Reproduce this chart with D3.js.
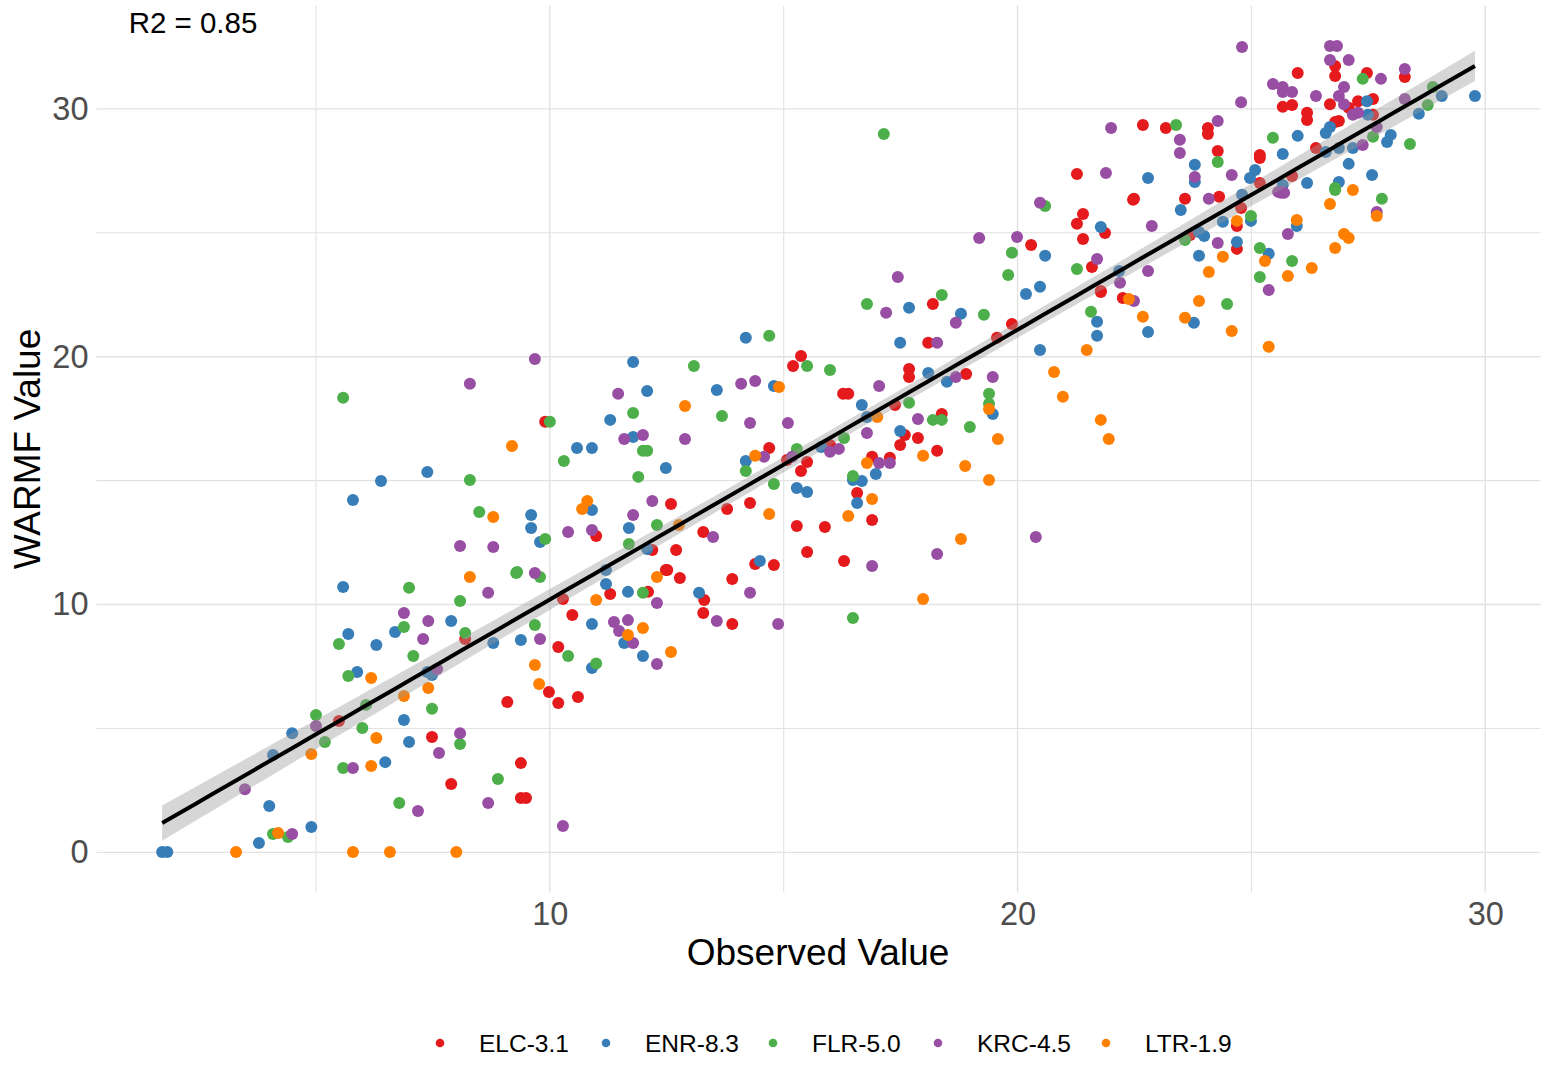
<!DOCTYPE html>
<html><head><meta charset="utf-8">
<script src="https://cdn.jsdelivr.net/npm/d3@7"></script>
<style>
html,body{margin:0;padding:0;background:#fff;}
svg{display:block;font-family:"Liberation Sans",Arial,Helvetica,sans-serif;}
</style></head>
<body>
<svg id="chart" width="1551" height="1067"></svg>
<script>
const categories = ["ELC-3.1","ENR-8.3","FLR-5.0","KRC-4.5","LTR-1.9"];
const colors = ["#E41A1C","#377EB8","#4DAF4A","#984EA3","#FF7F00"];
const xTicks = [10,20,30];
const yTicks = [0,10,20,30];
const xMinor = [5,15,25];
const yMinor = [5,15,25];
const r2Label = "R2 = 0.85";
const xTitle = "Observed Value";
const yTitle = "WARMF Value";

const elc = [[5.49,5.30],[7.48,4.65],[11.29,10.42],[12.51,11.39],[12.78,11.07],[12.10,10.51],[13.30,10.18],[13.28,9.66],[10.28,10.22],[10.48,9.58],[8.19,8.61],[10.18,8.29],[9.98,6.47],[10.18,6.03],[10.60,6.27],[9.09,6.07],[9.38,3.60],[7.89,2.76],[9.38,2.19],[9.49,2.19],[9.90,17.37],[10.99,12.76],[15.37,20.03],[15.20,19.62],[16.27,18.50],[16.38,18.50],[14.69,16.32],[15.07,15.83],[15.50,15.75],[15.37,15.39],[15.99,16.44],[16.89,15.96],[16.57,14.50],[12.59,14.06],[14.28,14.10],[13.79,13.85],[16.89,13.41],[15.28,13.17],[15.88,13.13],[13.28,12.93],[12.19,12.20],[12.70,12.20],[15.50,12.12],[16.29,11.76],[14.39,11.63],[14.79,11.59],[12.48,11.39],[13.90,11.03],[13.90,9.21],[18.19,22.13],[18.09,20.56],[19.88,21.32],[19.56,20.76],[21.78,22.61],[17.68,19.50],[17.68,19.18],[18.90,19.30],[17.38,18.05],[18.38,17.69],[17.59,16.84],[17.87,16.72],[17.49,16.44],[18.28,16.20],[17.27,15.92],[22.47,26.33],[23.58,26.37],[24.31,26.45],[21.87,24.99],[24.78,26.00],[24.69,25.27],[23.69,24.91],[24.69,24.35],[21.59,23.62],[21.78,22.65],[22.25,22.37],[22.68,29.35],[23.17,29.23],[24.07,29.23],[24.07,28.99],[24.28,28.30],[21.27,27.37],[22.49,26.37],[21.40,25.76],[21.27,25.36],[21.40,24.75],[20.29,24.51],[26.79,31.73],[26.79,31.33],[25.99,31.45],[27.47,31.45],[28.28,31.29],[25.67,30.08],[25.87,30.16],[26.19,29.84],[26.19,29.55],[26.68,30.19],[27.08,30.04],[27.28,30.31],[27.60,30.40],[27.60,29.76],[26.79,29.47],[26.87,29.51],[26.38,28.42],[25.18,28.14],[25.18,28.02],[25.87,27.29],[25.18,27.01]];

const enr = [[5.58,10.71],[5.69,8.81],[6.69,8.89],[6.29,8.37],[5.88,7.28],[7.38,7.28],[7.48,7.16],[4.49,4.81],[6.88,5.34],[6.99,4.45],[4.08,3.93],[6.48,3.64],[4.00,1.87],[4.90,1.02],[3.78,0.38],[1.71,0.01],[1.82,0.01],[11.20,11.39],[11.20,10.83],[11.67,10.51],[13.19,10.47],[10.90,9.21],[11.59,8.45],[11.99,7.92],[10.90,7.44],[7.89,9.33],[8.79,8.45],[9.38,8.57],[11.29,17.45],[10.58,16.32],[10.90,16.32],[7.38,15.35],[6.39,14.98],[5.79,14.22],[9.60,13.61],[10.90,13.81],[9.60,13.09],[9.79,12.52],[14.19,20.76],[11.78,19.79],[12.08,18.62],[13.57,18.66],[14.79,18.82],[16.67,18.05],[11.78,16.76],[12.48,15.51],[14.19,15.79],[15.80,16.36],[16.78,17.57],[16.97,15.27],[16.48,15.02],[16.67,14.98],[15.28,14.70],[15.50,14.54],[16.57,14.10],[11.69,13.09],[12.08,12.24],[14.49,11.76],[17.68,21.97],[18.79,21.73],[17.49,20.56],[20.18,22.53],[20.48,22.82],[20.48,20.27],[21.70,21.41],[21.70,20.84],[18.09,19.34],[18.49,18.99],[19.47,17.69],[17.49,17.00],[24.80,26.53],[23.49,25.92],[21.78,25.23],[24.39,25.44],[24.99,25.48],[25.97,25.27],[23.88,25.03],[23.99,24.87],[24.69,24.63],[25.37,24.15],[23.88,24.07],[22.17,23.46],[22.79,21.00],[23.77,21.37],[23.79,27.74],[23.79,27.05],[24.97,27.21],[22.79,27.21],[20.59,24.07],[27.47,30.31],[27.49,29.76],[26.68,29.27],[26.59,29.03],[27.90,28.66],[27.98,28.95],[29.07,30.52],[29.78,30.52],[28.58,29.80],[25.99,28.91],[26.59,28.26],[26.87,28.42],[27.17,28.42],[25.67,28.18],[25.08,27.53],[27.08,27.78],[27.58,27.33],[25.67,26.93],[26.19,27.01],[26.87,27.05]];

const flr = [[6.99,10.68],[6.88,9.09],[5.49,8.41],[7.08,7.92],[5.69,7.12],[6.07,5.95],[7.48,5.79],[5.00,5.54],[5.99,5.02],[5.19,4.45],[5.58,3.40],[6.78,1.99],[4.08,0.74],[4.40,0.62],[9.28,11.27],[9.79,11.11],[8.08,10.14],[11.99,10.47],[8.19,8.85],[9.68,9.17],[10.39,7.92],[10.99,7.62],[8.08,4.37],[8.89,2.96],[5.58,18.34],[10.00,17.37],[10.30,15.79],[8.29,15.02],[8.49,13.73],[9.90,12.64],[9.30,11.31],[14.69,20.84],[13.08,19.62],[15.50,19.62],[15.99,19.46],[11.78,17.73],[13.68,17.61],[11.99,16.20],[12.08,16.20],[11.89,15.15],[14.19,15.39],[15.28,16.28],[16.29,16.72],[16.48,15.19],[14.79,14.86],[12.29,13.21],[11.69,12.44],[16.48,9.46],[16.78,22.13],[18.38,22.49],[19.28,21.69],[21.57,21.81],[19.39,18.50],[19.39,18.10],[17.68,18.14],[18.19,17.45],[18.38,17.45],[18.98,17.16],[26.79,26.73],[27.79,26.37],[24.99,25.68],[23.58,24.71],[25.18,24.39],[25.87,23.86],[25.18,23.22],[24.48,22.13],[23.39,29.35],[24.28,27.86],[20.59,26.08],[19.88,24.19],[19.80,23.30],[21.27,23.54],[27.38,31.21],[28.88,30.88],[28.77,30.16],[27.60,28.87],[28.39,28.58],[25.46,28.83],[26.79,26.81],[17.14,28.99]];

const krc = [[6.88,9.66],[7.40,9.33],[7.29,8.61],[7.59,7.40],[5.00,5.10],[5.79,3.40],[7.63,4.01],[3.48,2.55],[7.18,1.67],[4.49,0.74],[9.68,11.27],[8.68,10.47],[12.29,10.06],[13.57,9.33],[11.37,9.29],[11.67,9.37],[11.48,8.93],[11.78,8.45],[12.29,7.60],[9.79,8.61],[8.08,4.81],[8.68,1.99],[10.28,1.06],[8.29,18.91],[11.46,18.50],[10.39,12.93],[10.90,13.01],[8.08,12.36],[8.79,12.32],[9.68,19.91],[17.04,18.82],[14.09,18.91],[14.39,19.02],[14.28,17.32],[15.09,17.32],[16.78,16.92],[11.59,16.68],[11.99,16.84],[12.89,16.68],[14.58,15.96],[15.18,15.96],[15.99,16.16],[16.18,16.28],[17.04,15.71],[12.19,14.18],[11.78,13.61],[13.49,12.72],[16.89,11.55],[14.28,10.47],[14.88,9.21],[17.19,21.77],[18.68,21.37],[18.28,20.56],[18.68,19.18],[19.47,19.18],[17.87,17.49],[17.27,15.71],[20.39,12.72],[18.28,12.04],[17.44,23.22],[25.63,26.61],[25.70,26.61],[27.68,25.84],[22.87,25.27],[25.78,24.95],[24.28,24.59],[25.37,22.69],[21.70,23.94],[22.79,23.46],[22.19,22.98],[22.49,22.25],[24.09,26.37],[24.78,30.27],[22.00,29.23],[24.28,29.51],[23.47,28.75],[23.47,28.22],[23.79,27.25],[24.58,27.33],[21.89,27.41],[20.48,26.21],[19.18,24.79],[19.99,24.83],[24.80,32.50],[26.68,32.54],[26.83,32.54],[26.68,31.97],[27.08,31.97],[27.77,31.21],[28.28,31.61],[25.46,31.00],[25.67,30.88],[25.67,30.68],[25.87,30.68],[26.98,30.88],[26.38,30.52],[26.87,30.52],[26.98,30.19],[27.17,29.76],[27.28,29.84],[27.68,29.27],[27.38,28.54],[28.28,30.40],[25.57,26.65],[25.67,26.65]];

const ltr = [[6.18,7.03],[6.88,6.31],[7.40,6.63],[6.29,4.61],[4.90,3.97],[6.18,3.48],[4.19,0.78],[3.29,0.01],[5.79,0.01],[6.58,0.01],[8.29,11.11],[12.29,11.11],[10.99,10.18],[11.67,8.77],[11.99,9.05],[12.59,8.08],[9.68,7.56],[9.77,6.79],[8.00,0.01],[9.19,16.40],[10.80,14.18],[10.69,13.85],[8.79,13.53],[14.90,18.78],[12.89,18.01],[14.39,16.00],[17.00,17.57],[16.78,15.71],[16.89,14.26],[14.69,13.65],[16.38,13.57],[12.76,13.21],[21.48,20.27],[20.78,19.38],[20.97,18.38],[19.39,17.89],[21.78,17.45],[21.95,16.68],[19.58,16.68],[17.98,16.00],[18.88,15.59],[19.39,15.02],[18.79,12.64],[17.98,10.22],[27.17,26.73],[26.68,26.16],[27.68,25.68],[24.69,25.48],[25.97,25.52],[26.98,24.95],[27.08,24.79],[25.29,23.86],[26.79,24.39],[26.29,23.58],[25.78,23.26],[24.39,24.03],[24.09,23.42],[22.68,21.61],[23.88,22.25],[23.58,21.57],[24.58,21.04],[25.37,20.40],[22.38,22.33]];

const seriesValues = [elc, enr, flr, krc, ltr];

// ---------- build table ----------
const points = [];
seriesValues.forEach((arr, i) => arr.forEach(p => points.push({x:p[0], y:p[1], g:i})));

const svg = d3.select("#chart");
const panel = {left:96.5, right:1540.6, top:5.6, bottom:892.4};

const xExt = d3.extent(points, d => d.x);
const yExt = d3.extent(points, d => d.y);
const xPad = (xExt[1]-xExt[0])*0.05, yPad = (yExt[1]-yExt[0])*0.05;
const x = d3.scaleLinear().domain([xExt[0]-xPad, xExt[1]+xPad]).range([panel.left, panel.right]);
const y = d3.scaleLinear().domain([yExt[0]-yPad, yExt[1]+yPad]).range([panel.bottom, panel.top]);

const gridColor = "#e2e2e2";
const grid = svg.append("g");
grid.selectAll(".vminor").data(xMinor).join("line")
  .attr("x1", d=>x(d)).attr("x2", d=>x(d)).attr("y1", panel.top).attr("y2", panel.bottom)
  .attr("stroke", gridColor).attr("stroke-width", 1.1);
grid.selectAll(".hminor").data(yMinor).join("line")
  .attr("y1", d=>y(d)).attr("y2", d=>y(d)).attr("x1", panel.left).attr("x2", panel.right)
  .attr("stroke", gridColor).attr("stroke-width", 1.1);
grid.selectAll(".vmajor").data(xTicks).join("line")
  .attr("x1", d=>x(d)).attr("x2", d=>x(d)).attr("y1", panel.top).attr("y2", panel.bottom)
  .attr("stroke", gridColor).attr("stroke-width", 1.4);
grid.selectAll(".hmajor").data(yTicks).join("line")
  .attr("y1", d=>y(d)).attr("y2", d=>y(d)).attr("x1", panel.left).attr("x2", panel.right)
  .attr("stroke", gridColor).attr("stroke-width", 1.4);

// points
svg.append("g").selectAll("circle").data(points).join("circle")
  .attr("cx", d=>x(d.x)).attr("cy", d=>y(d.y)).attr("r", 6)
  .attr("fill", d=>colors[d.g]);

// linear model with confidence band
const n = points.length;
const mx = d3.mean(points, d=>d.x), my = d3.mean(points, d=>d.y);
const sxx = d3.sum(points, d=>(d.x-mx)**2);
const sxy = d3.sum(points, d=>(d.x-mx)*(d.y-my));
const b1 = sxy/sxx, b0 = my - b1*mx;
const sse = d3.sum(points, d=>(d.y-(b0+b1*d.x))**2);
const s = Math.sqrt(sse/(n-2));
const tval = 1.965;
const fitX = d3.range(80).map(i => xExt[0] + (xExt[1]-xExt[0])*i/79);
const fit = fitX.map(xx => {
  const yh = b0 + b1*xx;
  const se = s*Math.sqrt(1/n + (xx-mx)**2/sxx);
  return {x:xx, y:yh, lo:yh-tval*se, hi:yh+tval*se};
});
svg.append("path").datum(fit)
  .attr("d", d3.area().x(d=>x(d.x)).y0(d=>y(d.lo)).y1(d=>y(d.hi)))
  .attr("fill", "#999999").attr("fill-opacity", 0.4);
svg.append("path").datum(fit)
  .attr("d", d3.line().x(d=>x(d.x)).y(d=>y(d.y)))
  .attr("fill", "none").attr("stroke", "#000").attr("stroke-width", 4);

// axes
const xAxis = svg.append("g").attr("transform", `translate(0,${panel.bottom})`)
  .call(d3.axisBottom(x).tickValues(xTicks).tickFormat(d3.format("d")).tickSize(0).tickPadding(10));
const yAxis = svg.append("g").attr("transform", `translate(${panel.left},0)`)
  .call(d3.axisLeft(y).tickValues(yTicks).tickFormat(d3.format("d")).tickSize(0).tickPadding(8));
[xAxis, yAxis].forEach(a => {
  a.select(".domain").remove();
  a.selectAll("text").attr("font-size", 32.5).attr("fill", "#4d4d4d")
    .attr("font-family", '"Liberation Sans",Arial,sans-serif');
});

// titles
svg.append("text").attr("x", 818).attr("y", 965)
  .attr("text-anchor", "middle").attr("font-size", 37).attr("fill", "#000").text(xTitle);
svg.append("text").attr("transform", `translate(40,${(panel.top+panel.bottom)/2}) rotate(-90)`)
  .attr("text-anchor", "middle").attr("font-size", 37).attr("fill", "#000").text(yTitle);

// R2 annotation
svg.append("text").attr("x", x(2.37)).attr("y", y(33.08))
  .attr("text-anchor", "middle").attr("font-size", 29.5).attr("fill", "#000").text(r2Label);

// legend
const legendX = [440, 606, 773, 938, 1106];
const lg = svg.append("g");
categories.forEach((c, i) => {
  lg.append("circle").attr("cx", legendX[i]).attr("cy", 1043).attr("r", 4.3).attr("fill", colors[i]);
  lg.append("text").attr("x", legendX[i]+39).attr("y", 1051.5).attr("font-size", 24.5)
    .attr("fill", "#000").text(c);
});
</script>
</body></html>
